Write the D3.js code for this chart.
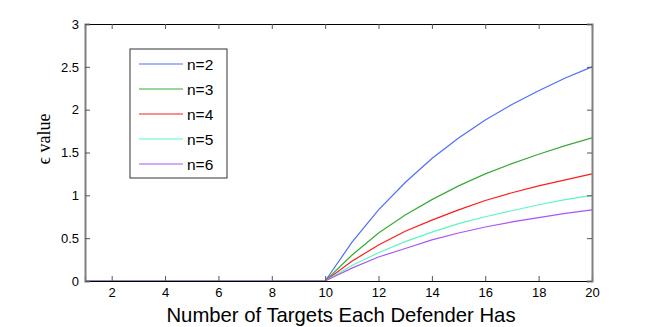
<!DOCTYPE html>
<html>
<head>
<meta charset="utf-8">
<script src="https://cdn.jsdelivr.net/npm/d3@7"></script>
<style>
  body { margin: 0; background: #fff; }
  svg { display: block; }
</style>
</head>
<body>
<div id="chart"></div>
<script>
var width = 654, height = 327;

// targets per defender (x axis)
var targets = [1,2,3,4,5,6,7,8,9,10,11,12,13,14,15,16,17,18,19,20];
var zeros10 = [0,0,0,0,0,0,0,0,0,0];

// epsilon values
var epsN2 = zeros10.concat([0.45,0.83,1.15,1.43,1.67,1.88,2.06,2.22,2.37,2.50]);
var epsN3 = zeros10.concat([0.30,0.56,0.77,0.95,1.11,1.25,1.37,1.48,1.58,1.67]);
var epsN4 = zeros10.concat([0.23,0.42,0.58,0.71,0.83,0.94,1.03,1.11,1.18,1.25]);
var epsN5 = zeros10.concat([0.18,0.33,0.46,0.57,0.67,0.75,0.82,0.89,0.95,1.00]);
var epsN6 = zeros10.concat([0.15,0.28,0.38,0.48,0.56,0.63,0.69,0.74,0.79,0.83]);

var seriesNames = ["n=2","n=3","n=4","n=5","n=6"];
var seriesColors = ["#4f6ef7","#3aaa3a","#ff1c1c","#5ef5c0","#a855f7"];
var seriesValues = [epsN2, epsN3, epsN4, epsN5, epsN6];

var xTicks = [2,4,6,8,10,12,14,16,18,20];
var yTicks = [0,0.5,1,1.5,2,2.5,3];

var plotLeft = 85, plotRight = 592, plotTop = 24, plotBottom = 281;

var x = d3.scaleLinear().domain([1,20]).range([plotLeft, plotRight]);
var y = d3.scaleLinear().domain([0,3]).range([plotBottom, plotTop]);

var svg = d3.select("#chart").append("svg")
  .attr("width", width).attr("height", height);

var font = "'Liberation Sans', Arial, Helvetica, sans-serif";

// lines
var line = d3.line()
  .x(function(d, i) { return x(targets[i]); })
  .y(function(d) { return y(d); });

seriesValues.forEach(function(vals, k) {
  svg.append("path")
    .attr("d", line(vals))
    .attr("fill", "none")
    .attr("stroke", seriesColors[k])
    .attr("stroke-width", 1.2);
});

// axes: bottom/top black, left/right grey like the render
var xAxisB = d3.axisBottom(x).tickValues(xTicks).tickSize(-5).tickPadding(7).tickFormat(d3.format("d"));
var xAxisT = d3.axisTop(x).tickValues(xTicks).tickSize(-5).tickFormat("");
var yAxisL = d3.axisLeft(y).tickValues(yTicks).tickSize(-5).tickPadding(6).tickFormat(function(d){ return String(d); });
var yAxisR = d3.axisRight(y).tickValues(yTicks).tickSize(-5).tickFormat("");

var gB = svg.append("g").attr("transform", "translate(0," + plotBottom + ")").call(xAxisB);
var gT = svg.append("g").attr("transform", "translate(0," + plotTop + ")").call(xAxisT);
var gL = svg.append("g").attr("transform", "translate(" + plotLeft + ",0)").call(yAxisL);
var gR = svg.append("g").attr("transform", "translate(" + plotRight + ",0)").call(yAxisR);

[gB, gT, gL, gR].forEach(function(g) {
  g.selectAll(".tick line").attr("stroke", "#555");
  g.selectAll("text").attr("font-family", font).attr("font-size", "13px").attr("fill", "#000");
});
gB.select(".domain").attr("stroke", "#000").attr("stroke-width", 1.2);
gT.select(".domain").attr("stroke", "#000").attr("stroke-width", 1.2);
gL.select(".domain").attr("stroke", "#808080").attr("stroke-width", 2);
gR.select(".domain").attr("stroke", "#808080").attr("stroke-width", 2);

// axis titles
svg.append("text")
  .attr("x", 341)
  .attr("y", 322)
  .attr("text-anchor", "middle")
  .attr("font-family", font)
  .attr("font-size", "20.3px")
  .text("Number of Targets Each Defender Has");

svg.append("text")
  .attr("transform", "translate(50,139) rotate(-90)")
  .attr("text-anchor", "middle")
  .attr("font-family", "'Liberation Serif', 'Times New Roman', serif")
  .attr("font-size", "18px")
  .text("\u03f5 value");

// legend
var legend = svg.append("g");
legend.append("rect")
  .attr("x", 130).attr("y", 49)
  .attr("width", 97).attr("height", 129)
  .attr("fill", "#fff")
  .attr("stroke", "#333")
  .attr("stroke-width", 1);

seriesNames.forEach(function(name, k) {
  var ly = 64 + k * 25;
  legend.append("line")
    .attr("x1", 139).attr("x2", 183)
    .attr("y1", ly).attr("y2", ly)
    .attr("stroke", seriesColors[k])
    .attr("stroke-width", 1.2);
  legend.append("text")
    .attr("x", 187).attr("y", ly + 5.5)
    .attr("font-family", font)
    .attr("font-size", "15.5px")
    .text(name);
});
</script>
</body>
</html>
